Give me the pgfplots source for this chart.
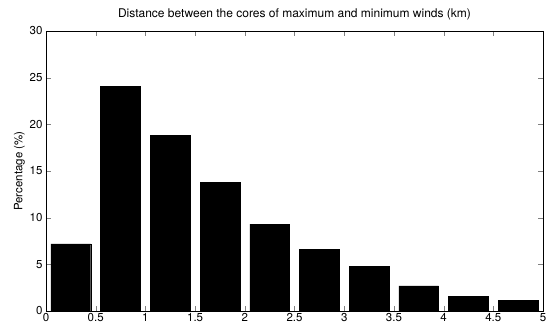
\documentclass[border=0pt]{standalone}
\usepackage{fontspec}
\setmainfont{TeX Gyre Heros}
\usepackage{pgfplots}
\pgfplotsset{compat=1.18}
\begin{document}
\begin{tikzpicture}
\begin{axis}[name=ax,
  scale only axis, width=497pt, height=280pt,
  xmin=0, xmax=5, ymin=0, ymax=30,
  xtick={0,0.5,...,5}, ytick={0,5,...,30},
  xticklabels={0,0.5,1,1.5,2,2.5,3,3.5,4,4.5,5},
  tick align=inside, tick pos=both,
  major tick length=5pt,
  /pgf/number format/assume math mode=true,
  tick label style={font=\fontsize{11.5}{13}\selectfont},
  title={Distance between the cores of maximum and minimum winds (km)},
  title style={font=\fontsize{12}{14}\selectfont, yshift=1pt},
  ylabel={Percentage (\%)},
  ylabel style={font=\fontsize{11.5}{13}\selectfont, yshift=-2pt},
  xticklabel style={yshift=1pt},
  axis line style={line width=0.6pt},
]
\addplot[ybar, bar width=0.4, fill=black, draw=black] coordinates {
(0.25,7.2) (0.75,24.1) (1.25,18.8) (1.75,13.8) (2.25,9.3)
(2.75,6.6) (3.25,4.8) (3.75,2.7) (4.25,1.6) (4.75,1.15)};
\end{axis}
\pgfresetboundingbox
\useasboundingbox ([shift={(-46pt,-14pt)}]ax.south west) rectangle ([shift={(7pt,31pt)}]ax.north east);
\end{tikzpicture}
\end{document}
